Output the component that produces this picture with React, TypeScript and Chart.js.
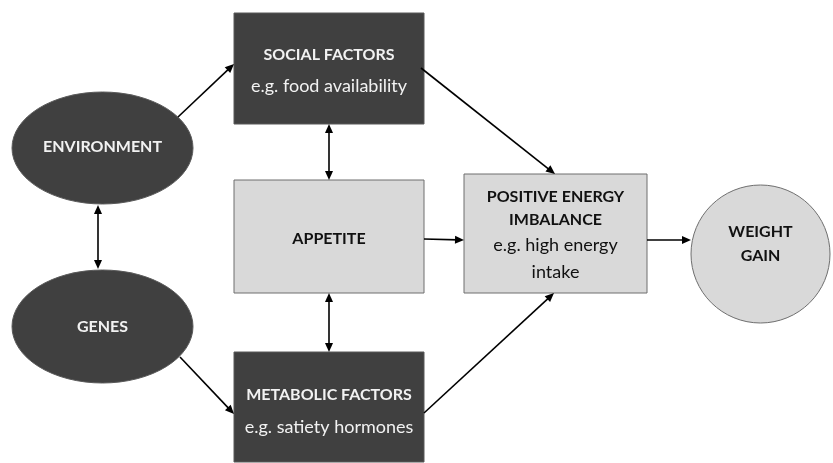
import React, { useEffect, useRef } from "react";
import { Chart, registerables } from "chart.js";

Chart.register(...registerables);

// Nodes of the flow diagram
const nodeIds = ["social", "environment", "appetite", "genes", "metabolic", "positive", "weight"];
const nodeShapes = ["rect", "ellipse", "rect", "ellipse", "rect", "rect", "circle"];
const nodeTitles = [
  ["SOCIAL FACTORS"],
  ["ENVIRONMENT"],
  ["APPETITE"],
  ["GENES"],
  ["METABOLIC FACTORS"],
  ["POSITIVE ENERGY", "IMBALANCE"],
  ["WEIGHT", "GAIN"],
];
const nodeSubtitles = [
  ["e.g. food availability"],
  [],
  [],
  [],
  ["e.g. satiety hormones"],
  ["e.g. high energy", "intake"],
  [],
];
const nodeDark = [true, true, false, true, true, false, false];
// geometry (diagram units = pixels of 833x463 canvas)
const nodeLeft = [234, 12, 234, 12, 234, 464, 691];
const nodeTop = [13, 92, 180, 270, 352, 174, 185];
const nodeRight = [424, 193, 424, 193, 424, 647, 830];
const nodeBottom = [124, 204, 293, 383, 462, 293, 323];
const titleY = [[55], [147], [239], [327], [395], [197, 220], [232, 256]];
const subY = [[86], [], [], [], [427], [245, 272], []];

// Arrows: start, end, double-headed?
const arrowX1 = [178, 98, 329, 329, 180, 421, 424, 424, 647];
const arrowY1 = [117, 205, 124, 293, 357, 68, 239, 413, 240];
const arrowX2 = [234, 98, 329, 329, 234, 555, 464, 554, 691];
const arrowY2 = [64, 269, 180, 352, 414, 174, 240, 293, 240];
const arrowBoth = [false, true, true, true, false, false, false, false, false];

const FONT = "Lato, 'Open Sans', sans-serif";

const diagramPlugin = {
  id: "diagram",
  afterDatasetsDraw(chart: any) {
    const { ctx, scales } = chart;
    const px = (v: number) => scales.x.getPixelForValue(v);
    const py = (v: number) => scales.y.getPixelForValue(v);
    ctx.save();

    // nodes
    for (let i = 0; i < nodeIds.length; i++) {
      const l = px(nodeLeft[i]);
      const r = px(nodeRight[i]);
      const t = py(nodeTop[i]);
      const b = py(nodeBottom[i]);
      ctx.beginPath();
      if (nodeShapes[i] === "rect") {
        ctx.rect(l, t, r - l, b - t);
      } else {
        ctx.ellipse((l + r) / 2, (t + b) / 2, (r - l) / 2, (b - t) / 2, 0, 0, Math.PI * 2);
      }
      ctx.fillStyle = nodeDark[i] ? "#404040" : "#d9d9d9";
      ctx.fill();
      ctx.lineWidth = 1;
      ctx.strokeStyle = nodeDark[i] ? "#595959" : "#6e6e6e";
      ctx.stroke();

      const cx = (l + r) / 2;
      ctx.textAlign = "center";
      ctx.textBaseline = "middle";
      ctx.fillStyle = nodeDark[i] ? "#f2f2f2" : "#111111";
      ctx.font = `bold 16px ${FONT}`;
      nodeTitles[i].forEach((s, k) => ctx.fillText(s, cx, py(titleY[i][k])));
      ctx.font = `18px ${FONT}`;
      nodeSubtitles[i].forEach((s, k) => ctx.fillText(s, cx, py(subY[i][k])));
    }

    // arrows
    const head = (x: number, y: number, ang: number) => {
      const len = 9;
      const w = 4;
      ctx.beginPath();
      ctx.moveTo(x, y);
      ctx.lineTo(x - len * Math.cos(ang) + w * Math.sin(ang), y - len * Math.sin(ang) - w * Math.cos(ang));
      ctx.lineTo(x - len * Math.cos(ang) - w * Math.sin(ang), y - len * Math.sin(ang) + w * Math.cos(ang));
      ctx.closePath();
      ctx.fill();
    };
    ctx.strokeStyle = "#000";
    ctx.fillStyle = "#000";
    ctx.lineWidth = 1.6;
    for (let i = 0; i < arrowX1.length; i++) {
      const x1 = px(arrowX1[i]);
      const y1 = py(arrowY1[i]);
      const x2 = px(arrowX2[i]);
      const y2 = py(arrowY2[i]);
      const ang = Math.atan2(y2 - y1, x2 - x1);
      const sx = arrowBoth[i] ? x1 + 6 * Math.cos(ang) : x1;
      const sy = arrowBoth[i] ? y1 + 6 * Math.sin(ang) : y1;
      ctx.beginPath();
      ctx.moveTo(sx, sy);
      ctx.lineTo(x2 - 6 * Math.cos(ang), y2 - 6 * Math.sin(ang));
      ctx.stroke();
      head(x2, y2, ang);
      if (arrowBoth[i]) head(x1, y1, ang + Math.PI);
    }
    ctx.restore();
  },
};

export default function App() {
  const ref = useRef<HTMLCanvasElement | null>(null);
  useEffect(() => {
    document.body.style.margin = "0";
    const canvas = ref.current;
    if (!canvas) return;
    const chart = new Chart(canvas, {
      type: "scatter",
      data: {
        datasets: [
          {
            label: "nodes",
            data: nodeIds.map((_, i) => ({
              x: (nodeLeft[i] + nodeRight[i]) / 2,
              y: (nodeTop[i] + nodeBottom[i]) / 2,
            })),
            pointRadius: 0,
          },
        ],
      },
      options: {
        animation: false,
        responsive: false,
        maintainAspectRatio: false,
        layout: { padding: 0 },
        plugins: { legend: { display: false }, tooltip: { enabled: false } },
        scales: {
          x: { type: "linear", min: 0, max: 833, display: false },
          y: { type: "linear", min: 0, max: 463, reverse: true, display: false },
        },
      },
      plugins: [diagramPlugin],
    });
    return () => chart.destroy();
  }, []);
  return (
    <div style={{ width: 833, height: 463, background: "#fff" }}>
      <canvas ref={ref} width={833} height={463} style={{ display: "block" }} />
    </div>
  );
}
